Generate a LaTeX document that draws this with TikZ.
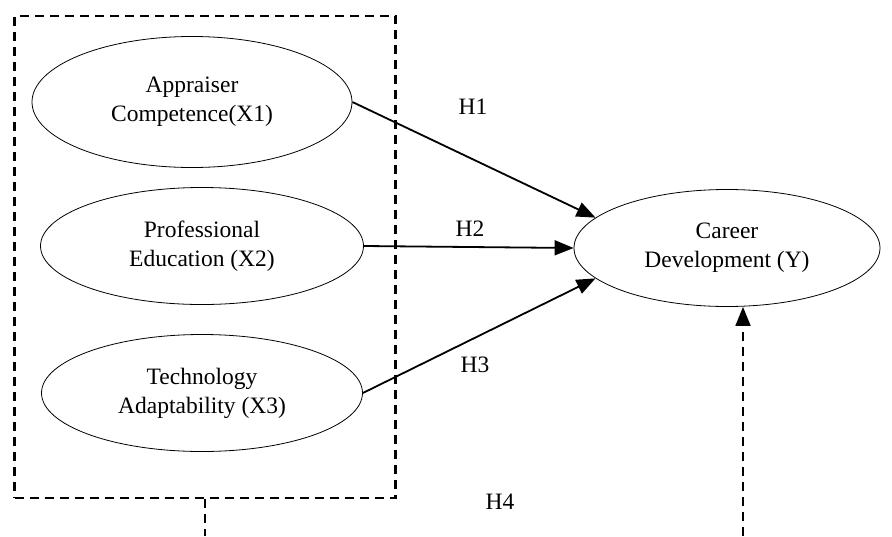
\documentclass[tikz,border=0pt]{standalone}
\usepackage{fontspec}
\setmainfont{Liberation Serif}
\usepackage{tikz}
\usetikzlibrary{shapes.geometric,arrows.meta,positioning,calc}

\begin{document}
\begin{tikzpicture}[x=1pt, y=-1pt,
        font=\fontsize{23.5}{29}\selectfont,
        var/.style={ellipse, draw, line width=0.8pt, inner sep=0pt, align=center, minimum width=322pt, minimum height=117pt},
        arrow/.style={-{Triangle[length=19pt, width=15pt]}, line width=1.8pt},
        dasharrow/.style={-{Triangle[length=19pt, width=15pt]}, line width=1.8pt, dash pattern=on 9pt off 6pt},
        grpbox/.style={rectangle, draw, line width=2.2pt, dash pattern=on 9pt off 6pt, minimum width=381pt, minimum height=482pt, inner sep=0pt}]

        \useasboundingbox (0,0) rectangle (892,536);

        % Independent variables
        \node[grpbox] (grp) at (205, 257) {};
        \node[var, minimum width=320pt, minimum height=131pt] (x1) at (192, 102) {Appraiser\\Competence(X1)};
        \node[var, minimum width=323pt] (x2) at (202, 246) {Professional\\Education (X2)};
        \node[var, minimum width=321pt] (x3) at (202, 393) {Technology\\Adaptability (X3)};

        % Dependent variable
        \node[var, minimum width=306pt] (y) at (727, 248) {Career\\Development (Y)};

        \draw[arrow] (x1.east) -- (y.167);
        \draw[arrow] (x2.east) -- (y.west);
        \draw[arrow] (x3.east) -- (y.193);

        \node (h1) at (473, 107) {H1};
        \node (h2) at (470, 229) {H2};
        \node (h3) at (475, 365) {H3};
        \node (h4) at (500, 502) {H4};

        % Joint effect
        \coordinate (grpout) at (205, 536);
        \coordinate (yin) at (743, 536);
        \draw[line width=1.8pt, dash pattern=on 9pt off 6pt] (grp.south) -- (grpout);
        \draw[dasharrow] (yin) -- (yin |- y.south);
\end{tikzpicture}
\end{document}
